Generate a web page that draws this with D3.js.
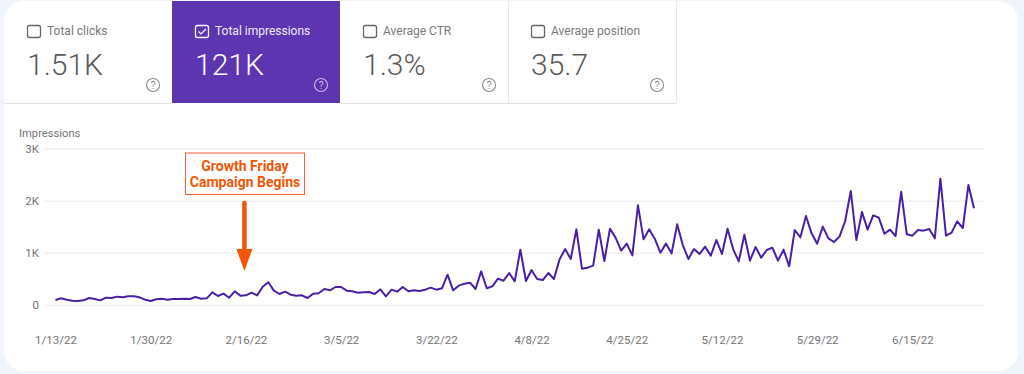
<!DOCTYPE html>
<html>
<head>
<meta charset="utf-8">
<style>
  html, body { margin: 0; padding: 0; background: #f0f5fc; }
  svg { display: block; }
  text { font-family: Roboto, sans-serif; }
</style>
<script src="https://cdn.jsdelivr.net/npm/d3@7"></script>
</head>
<body>
<div id="chart"></div>
<script>
const startDate = "1/13/22"

const impressions = [
  96,128,102,83,77,89,134,115,89,140,134,160,147,166,166,147,102,77,109,121,
  102,115,115,121,115,153,121,128,243,172,217,140,262,179,185,236,185,351,435,275,
  211,256,198,179,185,134,217,224,307,281,345,345,275,262,236,243,249,211,300,166,
  294,256,345,262,281,268,294,332,294,320,581,281,371,409,428,307,645,320,358,505,
  466,613,454,1061,460,671,498,479,613,498,875,1073,882,1450,696,716,754,1444,843,1463,
  1291,1042,1176,952,1911,1259,1450,1272,1003,1176,990,1546,1150,882,1073,978,1118,946,1246,978,
  1463,1067,837,1348,850,1112,907,1054,1099,850,1061,741,1438,1297,1706,1374,1176,1502,1278,1208,
  1316,1610,2185,1246,1783,1444,1719,1674,1367,1444,1323,2173,1355,1329,1438,1425,1457,1278,2422,1329,
  1387,1604,1476,2300,1853
]

const xTickLabels = ["1/13/22","1/30/22","2/16/22","3/5/22","3/22/22","4/8/22","4/25/22","5/12/22","5/29/22","6/15/22"]
const yTickValues = [0, 1000, 2000, 3000]
const yTickLabels = ["0", "1K", "2K", "3K"]

const tileLabels = ["Total clicks", "Total impressions", "Average CTR", "Average position"]
const tileValues = ["1.51K", "121K", "1.3%", "35.7"]
const selectedTile = 1

const noteLines = ["Growth Friday", "Campaign Begins"]
const noteDate = "2/16/22"

const purple = "#5e35b1"
const linecolor = "#4a1fa6"
const grey = "#757575"
const orange = "#f25605"

const parseDate = d3.timeParse("%-m/%-d/%y")
const formatDate = d3.timeFormat("%-m/%-d/%y")
const dates = impressions.map((d,i) => d3.timeDay.offset(parseDate(startDate), i))

const svg = d3.select("#chart")
              .append("svg")
                .attr("width", 1024)
                .attr("height", 374)

// white card
svg.append("rect")
    .attr("x", 4).attr("y", 1)
    .attr("width", 1014).attr("height", 370)
    .attr("rx", 20)
    .attr("fill", "#fff")

// metric tiles
const tileWidth = 168
const tileLeft = 4
const tileTop = 1
const tileBottom = 103

const tiles = svg.selectAll("g.tile")
    .data(tileLabels)
    .join("g")
      .attr("class", "tile")
      .attr("transform", (d,i) => `translate(${tileLeft + i*tileWidth},0)`)

tiles.filter((d,i) => i === selectedTile)
    .append("rect")
      .attr("y", tileTop)
      .attr("width", tileWidth)
      .attr("height", tileBottom - tileTop)
      .attr("fill", purple)

// tile borders, the first one has no left edge
tiles.filter((d,i) => i !== selectedTile)
    .append("line")
      .attr("x1", 0)
      .attr("x2", tileWidth)
      .attr("y1", tileBottom + .5)
      .attr("y2", tileBottom + .5)
      .attr("stroke", "#e2e2e4")

tiles.filter((d,i) => i >= 2)
    .append("line")
      .attr("x1", tileWidth + .5)
      .attr("x2", tileWidth + .5)
      .attr("y1", tileTop)
      .attr("y2", tileBottom)
      .attr("stroke", "#e8e8ea")

// checkbox
tiles.append("rect")
    .attr("x", 23.5).attr("y", 25.5)
    .attr("width", 13).attr("height", 12)
    .attr("rx", 2)
    .attr("fill", "none")
    .attr("stroke", (d,i) => i === selectedTile ? "#fff" : "#666")
    .attr("stroke-width", 1.3)

tiles.filter((d,i) => i === selectedTile)
    .append("path")
      .attr("d", "M26.5 31.5l2.5 2.5l5-5")
      .attr("fill", "none")
      .attr("stroke", "#fff")
      .attr("stroke-width", 1.2)

tiles.append("text")
    .attr("x", 43).attr("y", 35)
    .attr("font-size", 12)
    .attr("fill", (d,i) => i === selectedTile ? "#f1edf9" : "#7a7a7a")
    .text(d => d)

tiles.append("text")
    .attr("x", 23).attr("y", 74.5)
    .attr("font-size", 30)
    .attr("font-weight", 300)
    .attr("fill", (d,i) => i === selectedTile ? "#fff" : "#5a5a5a")
    .text((d,i) => tileValues[i])

// question mark
tiles.append("circle")
    .attr("cx", 149).attr("cy", 85)
    .attr("r", 6.5)
    .attr("fill", "none")
    .attr("stroke", (d,i) => i === selectedTile ? "#c9bbe6" : "#8a8a8a")
    .attr("stroke-width", 1.1)

tiles.append("text")
    .attr("x", 149).attr("y", 88.5)
    .attr("text-anchor", "middle")
    .attr("font-size", 10)
    .attr("fill", (d,i) => i === selectedTile ? "#c9bbe6" : "#8a8a8a")
    .text("?")

// chart
const xScale = d3.scaleTime()
    .domain([dates[0], dates[dates.length-1]])
    .range([55.5, 974])

const yScale = d3.scaleLinear()
    .domain([0, 3000])
    .range([305, 148.5])

const yaxisgenerator = d3.axisLeft(yScale)
    .tickValues(yTickValues)
    .tickFormat((d,i) => yTickLabels[i])
    .tickSize(-941)
    .tickPadding(5)

const yAxis = svg.append("g")
    .attr("transform", "translate(44,0)")
    .call(yaxisgenerator)

yAxis.select(".domain").remove()
yAxis.selectAll("line").attr("stroke", "#f0f0f1").attr("stroke-width", 1.5)
yAxis.selectAll("text")
    .attr("font-family", "Roboto, sans-serif")
    .attr("font-size", 11.5)
    .attr("fill", grey)

const xaxisgenerator = d3.axisBottom(xScale)
    .tickValues(xTickLabels.map(parseDate))
    .tickFormat(formatDate)
    .tickSize(0)
    .tickPadding(0)

const xAxis = svg.append("g")
    .attr("transform", "translate(0,335.5)")
    .call(xaxisgenerator)

xAxis.select(".domain").remove()
xAxis.selectAll("text")
    .attr("font-family", "Roboto, sans-serif")
    .attr("font-size", 11.5)
    .attr("fill", grey)

svg.append("text")
    .attr("x", 19).attr("y", 137)
    .attr("font-size", 11.2)
    .attr("fill", grey)
    .text("Impressions")

const line = d3.line()
    .x((d,i) => xScale(dates[i]))
    .y(d => yScale(d))

svg.append("path")
    .datum(impressions)
    .attr("d", line)
    .attr("fill", "none")
    .attr("stroke", linecolor)
    .attr("stroke-width", 2)
    .attr("stroke-linejoin", "round")

// annotation
const noteX = xScale(parseDate(noteDate)) - 1.5

svg.append("rect")
    .attr("x", 185.5).attr("y", 153)
    .attr("width", 119).attr("height", 41.5)
    .attr("fill", "#fff")
    .attr("stroke", "#f4603a")
    .attr("stroke-width", 1)

svg.selectAll("text.note")
    .data(noteLines)
    .join("text")
      .attr("class", "note")
      .attr("x", 245)
      .attr("y", (d,i) => 170.5 + i*16)
      .attr("text-anchor", "middle")
      .attr("font-family", "'Liberation Sans', sans-serif")
      .attr("font-size", 14)
      .attr("font-weight", "bold")
      .attr("fill", orange)
      .text(d => d)

svg.append("line")
    .attr("x1", noteX).attr("x2", noteX)
    .attr("y1", 203).attr("y2", 250)
    .attr("stroke", orange)
    .attr("stroke-width", 4.5)
    .attr("stroke-linecap", "round")

svg.append("path")
    .attr("d", `M${noteX-8} 249L${noteX+8} 249L${noteX} 271Z`)
    .attr("fill", orange)
</script>
</body>
</html>
